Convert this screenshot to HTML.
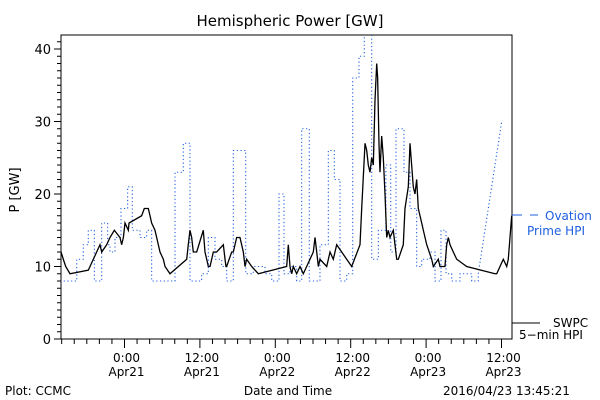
<!DOCTYPE html>
<html><head><meta charset="utf-8"><style>
body{margin:0;background:#fff}
svg{display:block;font-family:"DejaVu Sans","Liberation Sans",sans-serif}
</style></head><body>
<svg id="c" width="600" height="400">
<text x="290" y="26" font-size="15" text-anchor="middle">Hemispheric Power [GW]</text>
<text transform="translate(19,190) rotate(-90)" font-size="13" text-anchor="middle">P [GW]</text>
<text x="288" y="395" font-size="12" text-anchor="middle">Date and Time</text>
<text x="5" y="395" font-size="12">Plot: CCMC</text>
<text x="443" y="395" font-size="12">2016/04/23 13:45:21</text>
<g id="axes"></g>
<g id="series"></g>
<g>
<line x1="512" y1="215" x2="522" y2="215" stroke="#1f5fe0"/>
<line x1="530" y1="215" x2="538" y2="215" stroke="#1f5fe0"/>
<text x="545" y="220" font-size="12" fill="#1f5fe0">Ovation</text>
<text x="527" y="235" font-size="12" fill="#1f5fe0">Prime HPI</text>
<line x1="512" y1="323" x2="540" y2="323" stroke="#000"/>
<text x="553" y="327" font-size="12">SWPC</text>
<text x="519" y="339" font-size="12">5−min HPI</text>
</g>
</svg>
<script>
const swpcHours=[-10.1,-9.74,-9.36,-8.67,-5.76,-5.49,-4.96,-4.43,-3.9,-3.63,-2.84,-2.31,-1.62,-0.72,-0.45,-0.18,0.08,0.61,0.72,2.73,3.15,3.79,4.06,4.32,4.85,5.12,5.65,6.18,6.45,7.24,9.9,10.15,10.42,10.69,10.95,11.49,12.54,12.81,13.08,13.34,13.61,14.14,14.67,15.73,16.0,16.15,16.26,17.06,17.32,17.85,18.38,18.91,19.18,19.44,20.24,21.3,25.81,26.07,26.34,26.61,26.87,27.4,27.93,28.46,28.99,30.05,30.32,30.59,30.85,31.11,32.18,32.71,33.23,33.77,34.57,35.36,36.16,37.48,37.75,38.28,38.55,38.8,39.07,39.34,39.6,39.87,40.14,40.29,40.5,40.66,40.93,41.19,41.46,41.73,41.98,42.25,42.78,43.05,43.32,43.58,44.37,44.64,45.17,45.44,45.7,45.96,46.23,46.5,46.76,47.03,47.3,47.56,48.1,48.89,49.15,49.94,50.21,51.0,51.28,51.54,51.81,52.33,52.87,54.46,58.97,59.24,59.76,60.29,60.83,61.08,61.35,61.62];
const swpcValues=[12,11,10,9,9.5,10,11,12,13,12,13,14,15,14,13,14,16,15,16,17,18,18,17,16,15,14,12,11,10,9,11,13,15,14,12,12,15,12,11,10,10,12,12,13,11,10,10,12,12,14,14,12,10,11,10,9,10,13,10,9,10,9,10,9,10,12,14,12,10,11,10,12,11,13,12,11,10,13,18,27,26,24,23,25,24,33,38,36,27,23,28,25,20,14,15,14,15,13,11,11,13,18,21,27,24,21,20,22,18,17,16,15,13,11,10,11,10,10,13,14,13,12,11,10,9,9,10,11,10,11,14,17,18];
const ovHours=[-10.27,-7.6,-6.56,-5.76,-4.8,-3.63,-2.68,-2.31,-1.51,-0.56,0.5,1.24,2.47,3.53,4.32,8.04,9.36,10.42,12.28,13.34,14.4,15.47,16.26,17.32,19.29,20.5,22.36,23.43,24.59,25.38,26.34,27.4,28.2,29.41,31.11,32.44,33.39,34.3,35.36,36.32,37.32,38.16,39.34,40.4,41.6,42.37,43.21,44.48,45.44,46.5,47.3,48.62,49.42,50.37,51.17,52.07,53.4,55.26,56.3,60.03];
const ovValues=[8,11,13,15,8,16,13,12,14,18,21,15,14,15,8,23,27,8,9,14,11,10,8,26,9,10,9,8,20,9,10,8,29,8,13,26,22,8,9,36,39,44,11,15,24,12,29,23,18,10,11,12,8,15,9,8,9,8,9,30];
const yTicks=[0,10,20,30,40];
const xTickHours=[0,12,24,36,48,60];
const xTickTimes=["0:00","12:00","0:00","12:00","0:00","12:00"];
const xTickDates=["Apr21","Apr21","Apr22","Apr22","Apr23","Apr23"];

const L=61,R=512,T=35,B=339;
const xs=h=>124.5+h*6.2833;
const ys=v=>339-v*7.25;
const NS="http://www.w3.org/2000/svg";
function mk(tag,attrs,parent){const e=document.createElementNS(NS,tag);for(const k in attrs)e.setAttribute(k,attrs[k]);parent.appendChild(e);return e;}
const ax=document.getElementById('axes');
const frame=mk('rect',{x:L,y:T,width:R-L,height:B-T,fill:'none',stroke:'#000'},ax);


for(let v=0;v<=41;v++){const len=v%10===0?7:4;mk('line',{x1:L-len,y1:ys(v),x2:L,y2:ys(v),stroke:'#000'},ax);}
yTicks.forEach(v=>{const t=mk('text',{x:L-10,y:ys(v)+5,'font-size':13,'text-anchor':'end'},ax);t.textContent=v;

});
for(let h=-10;h<=61;h+=2){const len=h%12===0?9:5;mk('line',{x1:xs(h),y1:B,x2:xs(h),y2:B+len,stroke:'#000'},ax);}
xTickHours.forEach((h,i)=>{const t=mk('text',{x:xs(h)+2,y:362,'font-size':12,'text-anchor':'middle'},ax);t.textContent=xTickTimes[i];


const d=mk('text',{x:xs(h)+2,y:376,'font-size':12,'text-anchor':'middle'},ax);d.textContent=xTickDates[i];

});
const sg=document.getElementById('series');
const cp=mk('clipPath',{id:'clip'},sg);
mk('rect',{x:L,y:T,width:R-L,height:B-T},cp);
let d='M'+xs(ovHours[0])+','+ys(ovValues[0]);
for(let i=1;i<ovHours.length;i++){
 if(i===ovHours.length-1){d+=' L'+xs(ovHours[i])+','+ys(ovValues[i]);}
 else d+=' H'+xs(ovHours[i])+' V'+ys(ovValues[i]);
}
const ov=mk('path',{d:d,fill:'none',stroke:'#1f5fe0','stroke-width':1.1,'stroke-dasharray':'1.2 2.5','clip-path':'url(#clip)'},sg);


let d2='M'+xs(swpcHours[0])+','+ys(swpcValues[0]);
for(let i=1;i<swpcHours.length;i++){
 if(swpcValues[i]===swpcValues[i-1]) d2+=' H'+xs(swpcHours[i]);
 else d2+=' L'+xs(swpcHours[i])+','+ys(swpcValues[i]);
}
const sw=mk('path',{d:d2,fill:'none',stroke:'#000','stroke-width':1.3,'clip-path':'url(#clip)'},sg);


</script>
</body></html>
